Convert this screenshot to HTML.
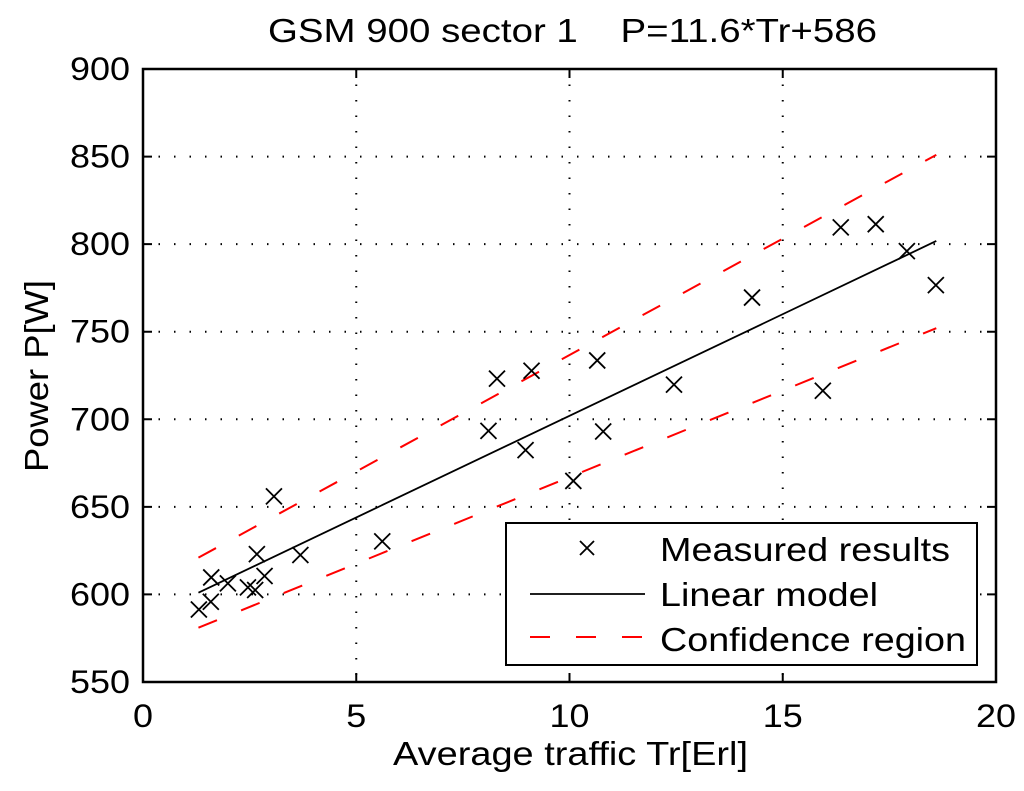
<!DOCTYPE html>
<html><head><meta charset="utf-8"><style>
body{margin:0;background:#fff}
svg text{font-family:"Liberation Sans",Arial,sans-serif;fill:#000}
</style></head><body>
<svg id="chart" width="1024" height="786" xmlns="http://www.w3.org/2000/svg">
<rect width="1024" height="786" fill="#fff"/>
<text x="268" y="42" font-size="33" textLength="609" lengthAdjust="spacingAndGlyphs" xml:space="preserve">GSM 900 sector 1    P=11.6*Tr+586</text>
<g id="grid"></g>
<g id="marks"></g>
<rect x="143" y="69" width="853" height="613" fill="none" stroke="#000" stroke-width="2.5"/>
<g id="ticks"></g>
<text x="393" y="765" font-size="33" textLength="355" lengthAdjust="spacingAndGlyphs">Average traffic Tr[Erl]</text>
<text transform="translate(48,376) rotate(-90)" font-size="33" text-anchor="middle" textLength="192" lengthAdjust="spacingAndGlyphs">Power P[W]</text>
<g>
<rect x="506" y="523" width="471" height="142" fill="#fff" stroke="#000" stroke-width="2"/>
<g>
<path d="M580 541 L594 555 M594 541 L580 555" stroke="#000" stroke-width="1.8"/>
<text x="660" y="561" font-size="33" textLength="290" lengthAdjust="spacingAndGlyphs">Measured results</text></g>
<g>
<line x1="530" y1="594" x2="645" y2="594" stroke="#000" stroke-width="1.8"/>
<text x="660" y="606" font-size="33" textLength="218" lengthAdjust="spacingAndGlyphs">Linear model</text></g>
<g>
<line x1="530" y1="637" x2="645" y2="637" stroke="#f00" stroke-width="2" stroke-dasharray="20,26"/>
<text x="660" y="651" font-size="33" textLength="306" lengthAdjust="spacingAndGlyphs">Confidence region</text></g>
</g>
</svg>
<script>
const trafficX=[1.31,1.59,1.60,1.99,2.46,2.63,2.67,2.85,3.07,3.69,5.61,8.10,8.30,8.97,9.11,10.09,10.65,10.79,12.45,14.28,15.94,16.36,17.18,17.91,18.59];
const powerY=[591.4,595.8,609.7,606.3,604,602.5,623,610.5,656,622.5,630.3,693.4,723.2,682.4,727.7,664.8,733.6,693,719.8,769.5,716.3,809.6,811.4,796,776.6];
const modelX=[1.3,18.6];
const modelY=[601,801.8];
const upperY=[621,851];
const lowerY=[581,752];
const xTicks=[0,5,10,15,20];
const yTicks=[550,600,650,700,750,800,850,900];
const NS='http://www.w3.org/2000/svg';
const sx=v=>143+v*(853/20);
const sy=v=>682-(v-550)*(613/350);
function mk(tag,attrs,parent){const e=document.createElementNS(NS,tag);for(const k in attrs)e.setAttribute(k,attrs[k]);parent.appendChild(e);return e;}
const grid=document.getElementById('grid'),ticks=document.getElementById('ticks'),marks=document.getElementById('marks');
xTicks.forEach(t=>{
 if(t>0&&t<20){const g=mk('line',{x1:sx(t),x2:sx(t),y1:69,y2:682,stroke:'#000','stroke-width':2,'stroke-dasharray':'1.5,14'},grid);
 
 }
 const tk=mk('path',{d:`M${sx(t)} 682 V673 M${sx(t)} 69 V78`,stroke:'#000','stroke-width':2},ticks);
 
 
 const l=mk('text',{x:sx(t),y:727,'font-size':32,'text-anchor':'middle',textLength:String(t).length*20,lengthAdjust:'spacingAndGlyphs'},ticks);l.textContent=t;
 
 
});
yTicks.forEach(t=>{
 if(t>550&&t<900){const g=mk('line',{x1:143,x2:996,y1:sy(t),y2:sy(t),stroke:'#000','stroke-width':2,'stroke-dasharray':'1.5,14'},grid);
 
 }
 const tk=mk('path',{d:`M143 ${sy(t)} H152 M996 ${sy(t)} H987`,stroke:'#000','stroke-width':2},ticks);
 
 
 const l=mk('text',{x:130,y:sy(t)+11,'font-size':32,'text-anchor':'end',textLength:60,lengthAdjust:'spacingAndGlyphs'},ticks);l.textContent=t;
 
 
});
const up=mk('line',{x1:sx(modelX[0]),y1:sy(upperY[0]),x2:sx(modelX[1]),y2:sy(upperY[1]),stroke:'#f00','stroke-width':2,'stroke-dasharray':'20,26'},marks);


const lo=mk('line',{x1:sx(modelX[0]),y1:sy(lowerY[0]),x2:sx(modelX[1]),y2:sy(lowerY[1]),stroke:'#f00','stroke-width':2,'stroke-dasharray':'20,26'},marks);


const ml=mk('line',{x1:sx(modelX[0]),y1:sy(modelY[0]),x2:sx(modelX[1]),y2:sy(modelY[1]),stroke:'#000','stroke-width':1.8},marks);


trafficX.forEach((x,i)=>{const cx=sx(x),cy=sy(powerY[i]),r=8;
 const p=mk('path',{d:`M${cx-r} ${cy-r} L${cx+r} ${cy+r} M${cx+r} ${cy-r} L${cx-r} ${cy+r}`,stroke:'#000','stroke-width':1.8},marks);
 
 
});
</script>
</body></html>
